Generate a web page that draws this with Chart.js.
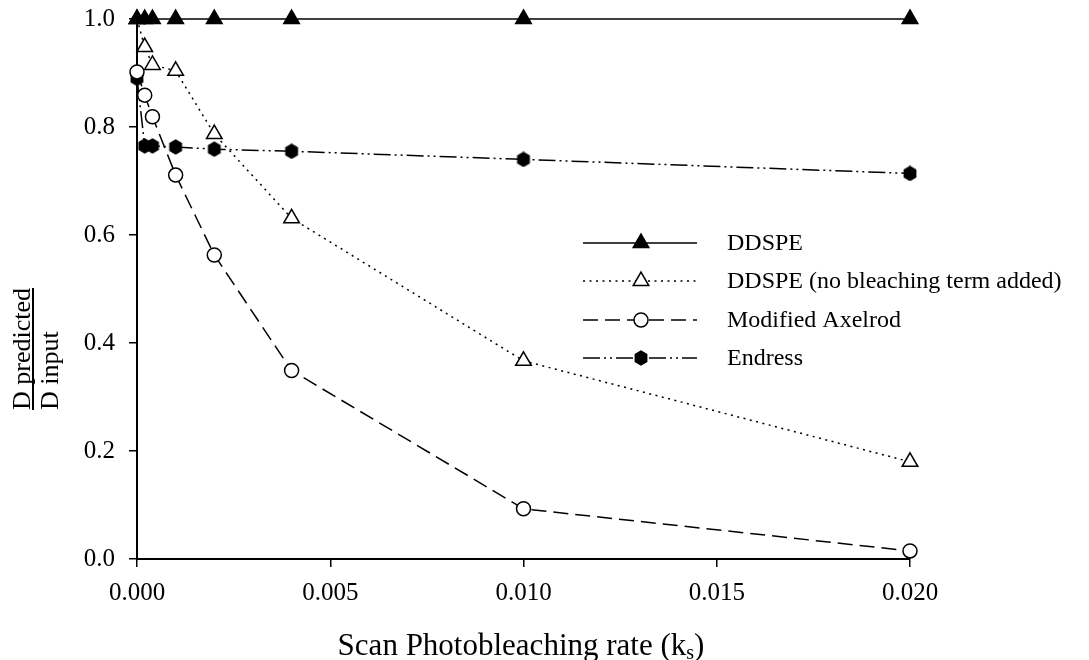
<!DOCTYPE html>
<html><head><meta charset="utf-8">
<script src="https://cdn.jsdelivr.net/npm/chart.js@4/dist/chart.umd.min.js"></script>
<style>html,body{margin:0;padding:0;background:#fff}#wrap{width:1089px;height:660px}</style>
</head><body><div id="wrap"><canvas id="c" width="1089" height="660"></canvas></div>
<script>
const rates = [0, 0.0002, 0.0004, 0.001, 0.002, 0.004, 0.010, 0.020];
const ddspe = [1.0, 1.0, 1.0, 1.0, 1.0, 1.0, 1.0, 1.0];
const ddspeNoBleach = [1.0, 0.948, 0.915, 0.904, 0.787, 0.631, 0.367, 0.180];
const modAxelrod = [0.902, 0.859, 0.819, 0.711, 0.563, 0.349, 0.093, 0.015];
const endress = [0.890, 0.765, 0.765, 0.763, 0.759, 0.755, 0.740, 0.714];
const xTicks = [0, 0.005, 0.010, 0.015, 0.020];
const yTicks = [0.0, 0.2, 0.4, 0.6, 0.8, 1.0];
const seriesNames = ['DDSPE', 'DDSPE (no bleaching term added)', 'Modified Axelrod', 'Endress'];
const xTitle = 'Scan Photobleaching rate (k';
const xTitleSub = 's';
const yTitleTop = 'D predicted';
const yTitleBottom = 'D input';

const FONT = '"Liberation Serif", "Times New Roman", serif';

// hexagon marker
function makeHex(){
  const c = document.createElement('canvas');
  c.width = 16; c.height = 16;
  const g = c.getContext('2d');
  g.beginPath();
  const cx = 8, cy = 8, r = 7.8;
  for (let i = 0; i < 6; i++) {
    const a = Math.PI / 2 + i * Math.PI / 3;
    const px = cx + r * Math.cos(a) * 0.95, py = cy - r * Math.sin(a);
    if (i === 0) g.moveTo(px, py); else g.lineTo(px, py);
  }
  g.closePath();
  g.fillStyle = '#000';
  g.fill();
  return c;
}
const hex = makeHex();

const toPts = arr => rates.map((x, i) => ({x: x, y: arr[i]}));

const styles = [
  {dash: [], pointStyle: 'triangle', radius: 9, fill: '#000'},
  {dash: [2, 4.5], pointStyle: 'triangle', radius: 9, fill: '#fff'},
  {dash: [15, 7], pointStyle: 'circle', radius: 7, fill: '#fff'},
  {dash: [17, 4, 2, 4, 2, 4], pointStyle: hex, radius: 8, fill: '#000'}
];
const series = [ddspe, ddspeNoBleach, modAxelrod, endress];

const datasets = series.map((s, i) => ({
  label: seriesNames[i],
  data: toPts(s),
  borderColor: '#000',
  borderWidth: 1.5,
  borderDash: styles[i].dash,
  pointStyle: styles[i].pointStyle,
  pointRadius: styles[i].radius,
  pointHoverRadius: styles[i].radius,
  pointBackgroundColor: styles[i].fill,
  pointBorderColor: '#000',
  pointBorderWidth: 1.5,
  tension: 0,
  fill: false,
  clip: false
}));

const overlay = {
  id: 'overlay',
  afterDraw(chart) {
    const ctx = chart.ctx;
    ctx.save();
    // legend
    const rowsY = [243, 281, 320, 358];
    const x0 = 583, x1 = 697, xm = 641, xt = 727;
    ctx.font = '24px ' + FONT;
    ctx.textBaseline = 'middle';
    ctx.textAlign = 'left';
    for (let i = 0; i < 4; i++) {
      const y = rowsY[i];
      ctx.beginPath();
      ctx.setLineDash(styles[i].dash);
      ctx.lineWidth = 1.5;
      ctx.strokeStyle = '#000';
      ctx.moveTo(x0, y); ctx.lineTo(x1, y);
      ctx.stroke();
      ctx.setLineDash([]);
      ctx.fillStyle = styles[i].fill;
      ctx.strokeStyle = '#000';
      ctx.lineWidth = 1.5;
      Chart.helpers.drawPoint(ctx, {pointStyle: styles[i].pointStyle, radius: styles[i].radius, rotation: 0, borderWidth: 1.5}, xm, y);
      ctx.fillStyle = '#000';
      ctx.fillText(seriesNames[i], xt, y + 1);
    }
    // x title
    ctx.textBaseline = 'alphabetic';
    ctx.font = '31px ' + FONT;
    const w1 = ctx.measureText(xTitle).width;
    ctx.font = '20px ' + FONT;
    const ws = ctx.measureText(xTitleSub).width;
    ctx.font = '31px ' + FONT;
    const w2 = ctx.measureText(')').width;
    const total = w1 + ws + w2;
    let sx = 521 - total / 2;
    const by = 655;
    ctx.fillText(xTitle, sx, by);
    ctx.font = '20px ' + FONT;
    ctx.fillText(xTitleSub, sx + w1, by + 4);
    ctx.font = '31px ' + FONT;
    ctx.fillText(')', sx + w1 + ws, by);
    // y title (fraction)
    ctx.font = '26px ' + FONT;
    const wt = ctx.measureText(yTitleTop).width;
    const wb = ctx.measureText(yTitleBottom).width;
    const wl = Math.max(wt, wb);
    const yStart = 410;
    ctx.save();
    ctx.translate(30, yStart);
    ctx.rotate(-Math.PI / 2);
    ctx.fillText(yTitleTop, 0, 0);
    ctx.restore();
    ctx.save();
    ctx.translate(58, yStart);
    ctx.rotate(-Math.PI / 2);
    ctx.fillText(yTitleBottom, 0, 0);
    ctx.restore();
    ctx.beginPath();
    ctx.lineWidth = 2;
    ctx.moveTo(33, yStart);
    ctx.lineTo(33, yStart - wl);
    ctx.stroke();
    ctx.restore();
  }
};

new Chart(document.getElementById('c'), {
  type: 'line',
  data: {datasets: datasets},
  plugins: [overlay],
  options: {
    responsive: false,
    devicePixelRatio: 1,
    animation: false,
    events: [],
    layout: {autoPadding: false, padding: {left: 0, right: 179, top: 19, bottom: 0}},
    plugins: {legend: {display: false}, tooltip: {enabled: false}, title: {display: false}},
    scales: {
      x: {
        type: 'linear',
        min: 0, max: 0.02,
        afterBuildTicks: s => { s.ticks = xTicks.map(v => ({value: v})); },
        afterFit: s => { s.height = 101; s.paddingLeft = 0; s.paddingRight = 0; },
        ticks: {
          callback: v => v.toFixed(3),
          font: {family: FONT, size: 25},
          color: '#000',
          padding: 11,
          maxRotation: 0,
          autoSkip: false
        },
        grid: {drawOnChartArea: false, drawTicks: true, tickLength: 8, color: '#000', lineWidth: 1.5},
        border: {display: true, color: '#000', width: 2}
      },
      y: {
        type: 'linear',
        min: 0, max: 1,
        afterBuildTicks: s => { s.ticks = yTicks.map(v => ({value: v})); },
        afterFit: s => { s.width = 137; s.paddingTop = 0; s.paddingBottom = 0; },
        ticks: {
          callback: v => v.toFixed(1),
          font: {family: FONT, size: 25},
          color: '#000',
          padding: 14,
          autoSkip: false
        },
        grid: {drawOnChartArea: false, drawTicks: true, tickLength: 8, color: '#000', lineWidth: 1.5},
        border: {display: true, color: '#000', width: 2}
      }
    }
  }
});
</script>
</body></html>
